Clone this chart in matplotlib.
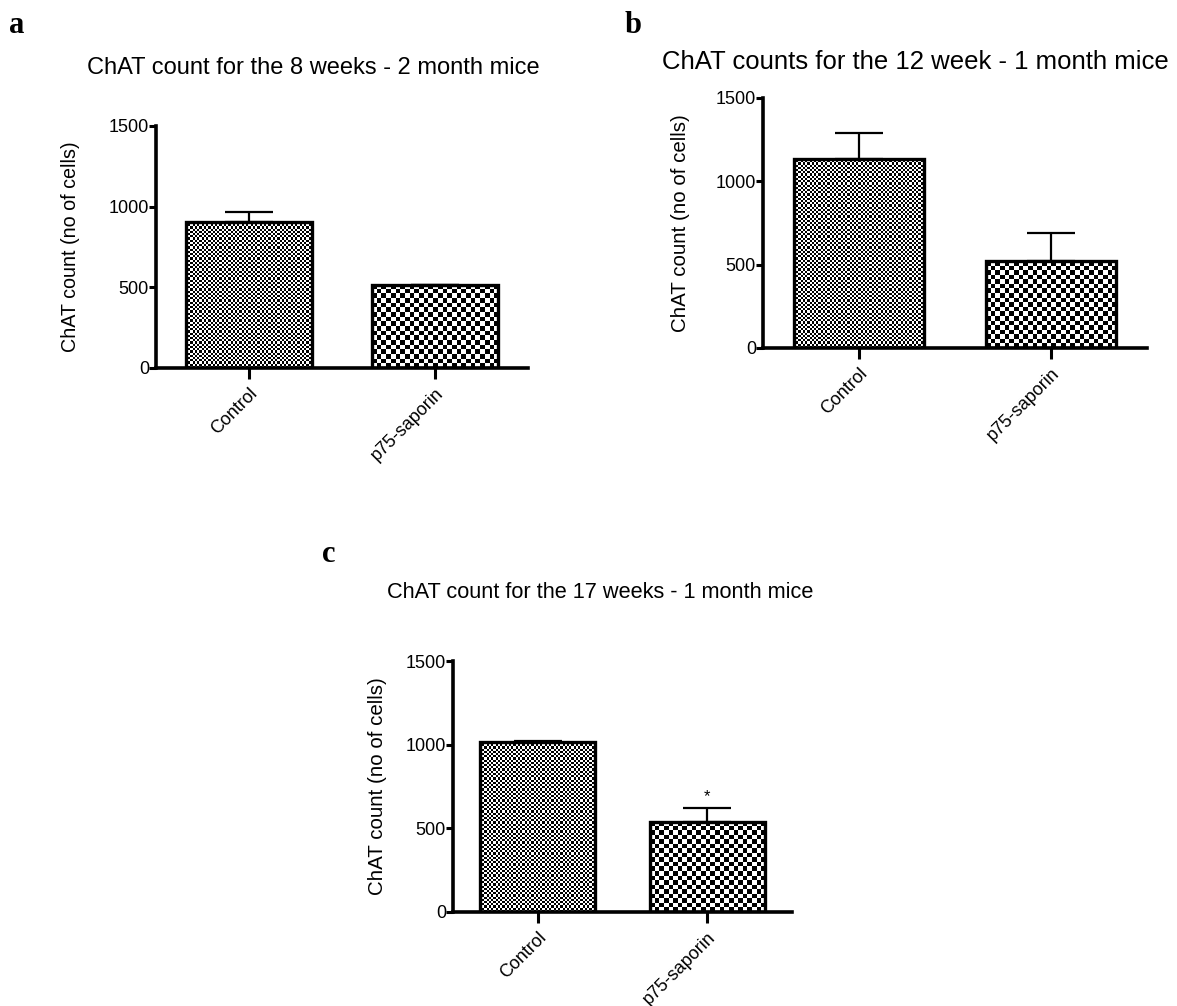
import numpy as np
import matplotlib
matplotlib.use("Agg")
import matplotlib.pyplot as plt

# --- data ---
groups = ["Control", "p75-saporin"]
means_a = [902, 517]
errs_a = [64, 0]
means_b = [1135, 521]
errs_b = [154, 169]
means_c = [1013, 540]
errs_c = [8, 80]
star_c = [None, "*"]

titles = ["ChAT count for the 8 weeks - 2 month mice",
          "ChAT counts for the 12 week - 1 month mice",
          "ChAT count for the 17 weeks - 1 month mice"]
ylabel = "ChAT count (no of cells)"
yticks = [0, 500, 1000, 1500]

W, H = 1177, 1006
DPI = 100
plt.rcParams["font.family"] = ["Liberation Sans", "DejaVu Sans"]

fig = plt.figure(figsize=(W / DPI, H / DPI), dpi=DPI)


def px_axes(x0, x1, y0, y1):
    # x0..x1 left->right pixels, y0 = pixel of value 0, y1 = pixel of 1500
    return fig.add_axes([x0 / W, 1 - y0 / H, (x1 - x0) / W, (y0 - y1) / H])


def checker(ax, rect, cell):
    # fill a bar with a black/white checkerboard clipped to the bar
    fig.canvas.draw()
    bb = rect.get_window_extent()
    nc = max(1, int(round(bb.width / cell)))
    nr = max(1, int(round(bb.height / cell)))
    ii, jj = np.indices((nr, nc))
    img = ((ii + jj) % 2).astype(float)
    x, y = rect.get_x(), rect.get_y()
    im = ax.imshow(img, cmap="gray", vmin=0, vmax=1, interpolation="nearest",
                   extent=[x, x + rect.get_width(), y, y + rect.get_height()],
                   aspect="auto", zorder=1)
    im.set_clip_path(rect)


def panel(ax, means, errs, ylsize, ylx, stars=None):
    pos = np.arange(len(groups))
    bars = ax.bar(pos, means, width=0.68, facecolor="none", edgecolor="black",
                  linewidth=2.4, zorder=3)
    ax.errorbar(pos, means, yerr=[np.zeros(len(errs)), errs], fmt="none",
                ecolor="black", elinewidth=1.6, capsize=17, capthick=1.6, zorder=2)
    ax.set_xlim(-0.5, 1.5)
    ax.set_ylim(0, 1500)
    ax.set_yticks(yticks)
    ax.set_xticks(pos)
    ax.set_xticklabels(groups, rotation=45, ha="right", rotation_mode="anchor")
    ax.tick_params(axis="both", labelsize=13, width=2.2, direction="out")
    ax.tick_params(axis="y", pad=0, length=5)
    ax.tick_params(axis="x", pad=4, length=8)
    for s in ["top", "right"]:
        ax.spines[s].set_visible(False)
    for s in ["left", "bottom"]:
        ax.spines[s].set_linewidth(2.6)
    ax.set_ylabel(ylabel, fontsize=ylsize)
    ax.yaxis.set_label_coords(ylx, 0.5)
    for bar, cell in zip(bars, [2.2, 4.6]):
        checker(ax, bar, cell)
    if stars:
        for p, m, e, s in zip(pos, means, errs, stars):
            if s:
                ax.text(p, m + e + 70, s, ha="center", va="center", fontsize=12)
    return ax


ax_a = panel(px_axes(156, 528, 368, 126), means_a, errs_a, 14.2, -0.204)
ax_b = panel(px_axes(763, 1147, 348, 98), means_b, errs_b, 14.8, -0.190)
ax_c = panel(px_axes(453, 792, 912, 661), means_c, errs_c, 14.8, -0.195, star_c)

fig.text(313 / W, 1 - 68 / H, titles[0], ha="center", va="center", fontsize=17)
fig.text(915 / W, 1 - 62 / H, titles[1], ha="center", va="center", fontsize=18.5)
fig.text(600 / W, 1 - 593 / H, titles[2], ha="center", va="center", fontsize=15.7)

for lab, x, y in [("a", 17, 33), ("b", 633, 33), ("c", 329, 562)]:
    fig.text(x / W, 1 - y / H, lab, ha="center", va="baseline", fontsize=22,
             fontweight="bold", family=["Liberation Serif", "DejaVu Serif"])

fig.savefig("out.png", dpi=DPI)
